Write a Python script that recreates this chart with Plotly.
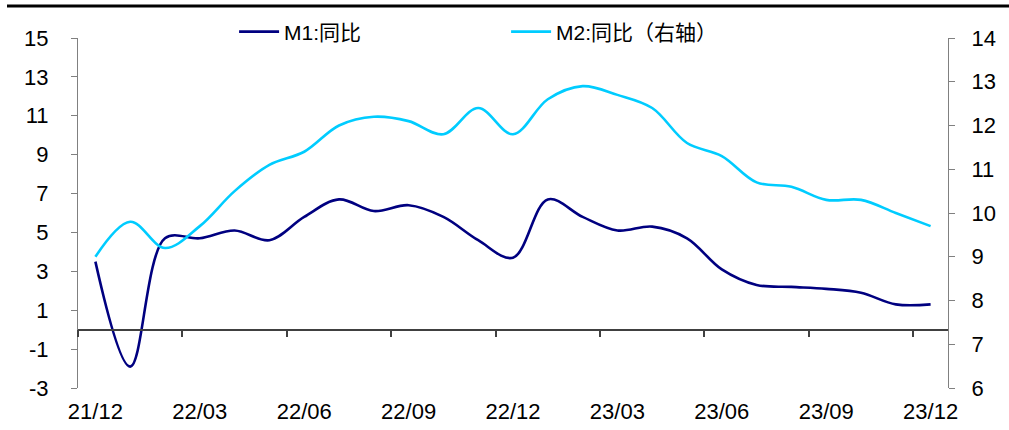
import plotly.graph_objects as go

# Monthly year-on-year growth of money supply, Dec 2021 - Dec 2023 (%)
months = ["21/12", "22/01", "22/02", "22/03", "22/04", "22/05", "22/06", "22/07",
          "22/08", "22/09", "22/10", "22/11", "22/12", "23/01", "23/02", "23/03",
          "23/04", "23/05", "23/06", "23/07", "23/08", "23/09", "23/10", "23/11",
          "23/12"]
m1_yoy = [3.5, -1.9, 4.7, 4.7, 5.1, 4.6, 5.8, 6.7, 6.1, 6.4, 5.8, 4.6, 3.7,
          6.7, 5.8, 5.1, 5.3, 4.7, 3.1, 2.3, 2.2, 2.1, 1.9, 1.3, 1.3]
m2_yoy = [9.0, 9.8, 9.2, 9.7, 10.5, 11.1, 11.4, 12.0, 12.2, 12.1, 11.8, 12.4,
          11.8, 12.6, 12.9, 12.7, 12.4, 11.6, 11.3, 10.7, 10.6, 10.3, 10.3,
          10.0, 9.7]

left_ticks = list(range(-3, 16, 2))
right_ticks = list(range(6, 15))

FONT = "Liberation Sans, Arial, Noto Sans CJK SC, sans-serif"
idx = list(range(len(months)))
label_idx = idx[::3]
boundary_ticks = [i - 0.5 for i in label_idx]
xr = [-0.5, len(months) - 0.5]
lo, hi = left_ticks[0], left_ticks[-1]

fig = go.Figure()
fig.add_trace(go.Scatter(
    x=idx, y=m1_yoy, name="M1:同比", mode="lines",
    line=dict(color="#000080", width=2.6, shape="spline", smoothing=1),
))
fig.add_trace(go.Scatter(
    x=idx, y=m2_yoy, name="M2:同比（右轴）", mode="lines", yaxis="y2",
    line=dict(color="#00CCFF", width=2.6, shape="spline", smoothing=1),
))
# carrier trace for the zero-line category axis
fig.add_trace(go.Scatter(x=[], y=[], xaxis="x2", showlegend=False, hoverinfo="skip"))

fig.update_layout(
    width=1009, height=430,
    margin=dict(l=78, r=61, t=38, b=42, autoexpand=False),
    paper_bgcolor="white", plot_bgcolor="white",
    font=dict(family=FONT, size=22, color="black"),
    showlegend=True,
    legend=dict(
        orientation="h", xref="container", yref="container",
        x=0.232, y=(430 - 32) / 430, xanchor="left", yanchor="middle",
        entrywidth=217, entrywidthmode="pixels",
        font=dict(family=FONT, size=21), bgcolor="rgba(0,0,0,0)",
        itemwidth=40, tracegroupgap=0,
    ),
    xaxis=dict(
        range=xr, tickmode="array", tickvals=label_idx,
        ticktext=[months[i] for i in label_idx],
        showline=False, ticks="", showgrid=False, zeroline=False,
        ticklabelstandoff=8, tickfont=dict(size=22),
    ),
    xaxis2=dict(
        range=xr, overlaying="x", anchor="free",
        position=(0 - lo) / (hi - lo),
        tickmode="array", tickvals=boundary_ticks, showticklabels=False,
        ticks="outside", ticklen=7, tickcolor="#404040", tickwidth=1.5,
        showline=True, linecolor="#404040", linewidth=1.5,
        showgrid=False, zeroline=False,
    ),
    yaxis=dict(
        range=[lo, hi], tickmode="array", tickvals=left_ticks,
        ticktext=[str(v) for v in left_ticks],
        ticks="outside", ticklen=6, tickcolor="#808080",
        showline=True, linecolor="#808080", linewidth=1.2,
        showgrid=False, zeroline=False, ticklabelstandoff=18,
        tickfont=dict(size=22),
    ),
    yaxis2=dict(
        range=[right_ticks[0], right_ticks[-1]], tickmode="array",
        tickvals=right_ticks, overlaying="y", side="right",
        ticks="outside", ticklen=6, tickcolor="#808080",
        showline=True, linecolor="#808080", linewidth=1.2,
        showgrid=False, zeroline=False, ticklabelstandoff=12,
        tickfont=dict(size=22),
    ),
    shapes=[dict(type="line", xref="paper", yref="paper",
                 x0=-71 / 870, x1=931 / 870, y0=1 + 32 / 350, y1=1 + 32 / 350,
                 line=dict(color="black", width=3))],
)

fig.write_html("out.html")
